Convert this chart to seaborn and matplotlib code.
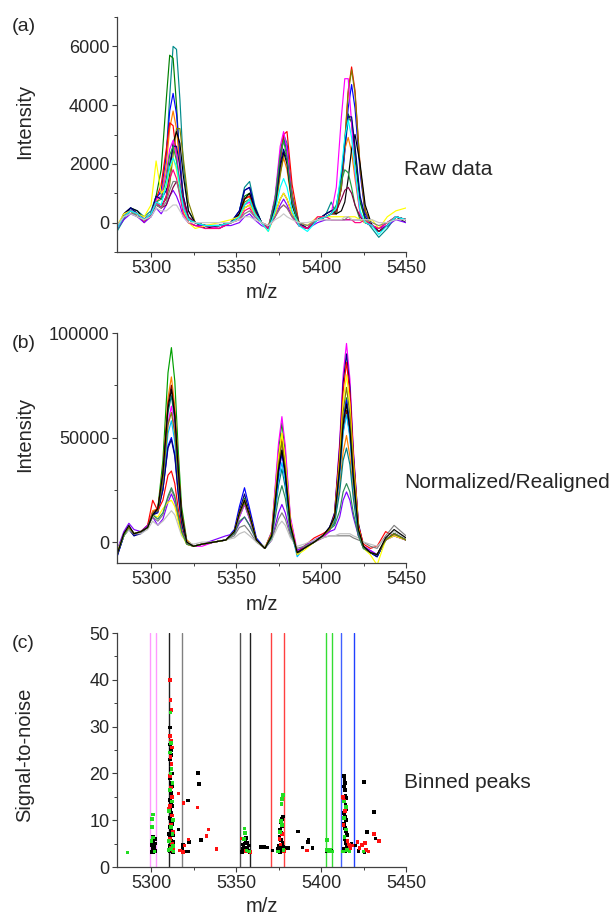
import matplotlib
matplotlib.use("Agg")
import matplotlib.pyplot as plt
from matplotlib.ticker import MultipleLocator
import numpy as np
import pandas as pd
import seaborn as sns

# ---------------- data ----------------
# (a) raw spectra: m/z grid and intensities in units of 100
raw_mz = [5280, 5284, 5288, 5292, 5296, 5300, 5303, 5306, 5309, 5311, 5313, 5315,
          5317, 5319, 5322, 5326, 5332, 5340, 5347, 5352, 5355, 5358, 5361, 5365,
          5369, 5373, 5376, 5378, 5380, 5383, 5387, 5392, 5398, 5403, 5406, 5409,
          5412, 5414, 5416, 5418, 5420, 5423, 5426, 5430, 5434, 5439, 5444, 5450]
raw_hundreds = [
    [-3,1,5,4,2,4,9,10, 23,43,60,59,42,20,4,0, -1,-2,0,4,12,14,6,0, -2,8,24,30,27,9,-1,-2, 1,3,7,3,13,25,35,35, 25,8,1,-2,-5,-2,2,1],
    [-2,2,4,3,1,3,9,18, 42,57,56,40,20,7,1,0, -1,-1,0,3,9,10,5,0, -2,8,23,29,24,7,-1,-2, 1,2,3,4,15,28,37,34, 22,7,1,-1,-3,-1,2,1],
    [-2,3,5,3,1,3,8,11, 23,38,44,37,22,9,1,0, -1,-1,0,4,11,12,5,0, -2,7,22,28,26,9,0,-2, 1,2,3,3,12,24,39,47, 39,17,3,-1,-3,-1,2,1],
    [-1,2,4,2,1,3,7,9, 20,32,38,32,19,8,1,0, -1,-1,0,3,8,9,4,0, -1,6,17,22,18,6,0,-1, 1,2,3,5,16,25,29,24, 15,3,0,-1,-2,0,2,1],
    [-2,2,4,3,0,3,8,13, 25,34,33,23,12,4,0,-1, -1,-1,0,3,8,9,4,0, -2,5,21,30,31,13,0,-2, 1,2,3,3,12,28,45,53, 45,19,4,-1,-3,-1,2,1],
    [-2,2,3,3,1,2,7,6, 8,13,23,32,32,22,7,0, -1,-2,0,2,7,8,4,0, -2,4,16,23,24,10,0,-2, 1,2,3,3,12,27,44,52, 44,19,4,-1,-3,-1,2,1],
    [-2,3,5,4,1,3,6,5, 9,17,27,31,27,16,4,0, -2,-1,0,3,8,10,5,0, -2,6,19,24,20,6,-1,-2, 1,3,4,3,4,7,15,25, 30,20,6,-1,-3,-1,2,0],
    [-1,2,4,3,1,3,8,9, 17,25,28,23,14,6,1,0, -1,-2,0,2,6,7,3,0, -2,9,26,31,25,8,-1,-2, 1,2,3,12,36,49,49,34, 17,3,0,-1,-2,0,2,1],
    [-2,2,5,3,1,3,9,8, 11,20,26,26,19,9,2,0, -1,-1,0,4,11,12,5,0, -2,6,20,25,21,7,0,-2, 1,3,4,5,16,27,36,36, 26,9,2,-1,-3,-1,2,1],
    [-2,2,4,2,1,3,7,8, 15,23,26,21,13,5,1,0, -1,-1,0,2,6,8,3,0, -2,8,23,28,22,7,-1,-2, 1,2,3,6,14,18,17,12, 6,1,0,-1,-3,-1,2,1],
    [-2,1,3,2,0,2,5,3, 6,9,11,9,6,2,0,-1, -1,-1,-1,0,2,3,1,-1, -2,2,6,8,6,2,-1,-2, 0,1,1,1,1,1,1,1, 1,1,0,-1,-2,-1,1,0],
    [-2,2,4,3,1,3,7,5, 6,9,12,14,12,8,2,0, -1,-1,0,2,5,6,3,0, -2,3,8,10,8,3,-1,-2, 1,2,3,4,8,11,12,10, 6,2,0,-1,-3,-1,2,1],
    [-1,3,4,3,2,6,21,10, 12,18,22,18,11,4,0,-2, -1,0,1,2,5,6,3,0, -3,3,8,10,8,3,0,-1, 2,2,2,2,2,2,2,2, 2,1,0,1,-2,2,4,5],
    [-2,2,4,3,1,3,7,5, 9,15,18,15,9,3,0,-1, -2,-2,0,1,4,5,2,0, -2,2,5,6,5,2,-1,-2, 2,2,1,1,1,1,1,1, 0,0,1,-1,-2,0,2,1],
    [-1,2,4,2,1,3,6,5, 7,11,14,14,10,5,1,0, -1,-1,0,1,3,4,2,0, -1,2,5,6,5,2,0,-1, 1,1,1,1,1,1,2,1, 1,1,1,0,-1,0,2,1],
    [-2,2,4,3,1,3,7,6, 13,19,22,19,12,5,1,0, -1,-1,0,2,6,8,3,0, -3,4,12,15,12,4,-1,-3, 1,2,3,5,18,29,35,29, 18,4,0,-1,-4,-1,2,1],
    [-1,2,3,2,1,2,5,4, 4,5,6,6,4,2,0,0, 0,0,0,1,2,2,1,0, -1,1,2,3,2,1,0,0, 1,1,1,1,1,2,2,1, 1,1,1,1,0,0,1,1],
]

# (b) normalized / realigned spectra: intensities in units of 1000
norm_mz = [5280, 5284, 5287, 5290, 5294, 5298, 5301, 5304, 5307, 5310, 5312, 5314,
           5316, 5318, 5321, 5325, 5330, 5337, 5344, 5349, 5352, 5355, 5358, 5362,
           5367, 5371, 5375, 5377, 5379, 5382, 5386, 5390, 5396, 5401, 5405, 5408,
           5411, 5413, 5415, 5417, 5419, 5422, 5425, 5429, 5433, 5438, 5443, 5450]
norm_thousands = [
    [-6,4,7,4,5,7,14,16, 39,81,93,77,44,17,1,-2, -1,0,1,5,14,21,13,1, -3,5,44,57,43,11,-5,-3, 0,3,6,12,36,58,69,56, 33,6,-2,-5,-6,1,4,1],
    [-5,3,7,4,5,8,15,16, 34,69,79,65,37,14,1,-2, -1,0,1,5,14,20,13,1, -3,4,40,52,39,10,-5,-3, 0,3,6,10,27,43,51,41, 24,4,-3,-5,-6,1,4,1],
    [-6,4,7,4,5,7,14,16, 33,66,75,62,36,14,0,-2, -1,0,1,5,13,19,12,1, -3,4,38,49,37,9,-5,-3, 0,3,6,11,33,53,63,51, 30,5,-2,-5,-6,1,4,1],
    [-6,3,7,4,5,7,13,15, 31,62,70,58,33,13,0,-2, -1,0,1,5,12,18,11,1, -3,2,27,35,26,7,-5,-3, 0,3,6,9,24,39,45,37, 21,3,-3,-5,-7,1,4,1],
    [-5,4,7,4,5,8,14,15, 30,57,65,53,31,12,0,-2, -2,0,1,4,12,18,11,1, -3,5,47,60,46,12,-4,-3, 0,2,5,14,48,80,95,78, 45,8,-2,-4,-6,1,3,1],
    [-6,3,7,4,5,7,13,15, 27,52,58,48,27,11,0,-2, -1,0,1,5,13,19,12,1, -3,3,30,38,29,7,-7,-3, 0,3,6,11,32,52,61,50, 29,5,-3,-5,-6,1,4,1],
    [-7,3,7,3,5,7,13,15, 25,46,50,42,24,9,0,-2, -1,0,1,6,17,26,16,2, -3,3,33,42,32,8,-5,-3, 0,3,7,12,35,58,68,56, 32,6,-3,-5,-7,1,4,1],
    [-7,3,6,3,4,7,13,14, 25,45,49,41,23,9,-1,-2, -1,0,1,5,15,23,14,1, -3,3,34,44,33,8,-6,-3, 0,3,7,14,46,76,90,74, 43,9,-2,-5,-7,1,4,1],
    [-5,4,7,4,5,8,20,15, 20,32,34,28,16,6,-1,-2, -1,0,1,5,14,20,13,1, -3,4,38,49,37,9,-5,-2, 2,4,6,13,43,72,86,71, 41,8,-1,-3,-2,5,3,1],
    [-4,5,9,6,5,8,12,8, 11,19,23,19,11,5,0,-2, -1,1,3,4,9,12,8,1, -3,1,14,18,14,4,-4,-2, 1,3,5,6,12,20,24,20, 12,3,-2,-4,-6,1,3,1],
    [-5,4,7,4,5,7,12,10, 13,21,25,21,12,5,0,-2, -1,0,1,3,7,8,5,0, -3,1,11,14,11,3,-3,-2, 0,2,3,3,3,3,3,3, 2,1,0,-2,-3,3,8,3],
    [-4,3,6,4,4,6,10,8, 10,13,15,13,8,3,0,-1, 0,0,1,2,4,5,3,0, -2,1,8,10,8,2,-2,-1, 1,2,3,3,4,4,4,4, 3,2,0,-1,-2,2,5,2],
    [-5,3,7,4,5,7,13,12, 16,19,20,17,10,4,-1,-2, -1,0,1,5,14,20,13,1, -3,4,40,52,39,10,-6,-4, 0,3,6,12,40,67,80,66, 39,7,-3,-6,-11,1,3,1],
    [-6,3,7,4,5,7,13,11, 14,22,26,22,13,5,-1,-2, -1,0,1,4,10,12,8,1, -3,2,21,27,21,5,-5,-3, 0,3,6,8,15,24,28,24, 14,3,-3,-5,-6,1,4,1],
    [-6,4,7,4,5,7,14,15, 29,56,62,52,30,12,0,-2, -1,0,1,5,13,19,12,1, -3,4,37,48,36,9,-5,-3, 0,3,6,12,38,62,74,61, 36,6,-2,-5,-6,1,4,1],
    [-6,4,8,4,5,7,13,16, 33,64,73,60,35,13,0,-2, -1,0,1,5,14,20,13,1, -3,3,35,44,33,8,-5,-3, 0,3,7,12,35,56,66,54, 31,6,-2,-5,-6,2,6,2],
]

# (c) binned peaks: bin boundaries (m/z) and detected peaks (m/z, signal-to-noise)
bin_edges = [5299.4, 5303.2, 5310.3, 5318.0, 5352.4, 5358.3, 5370.7, 5378.0,
             5403.0, 5406.5, 5411.6, 5419.3]

black_mz = [5300.3,5300.8,5301.2,5301.6,5302.0,5300.5,5301.4,5302.2,5301.0,5302.5,5301.8,5300.7,5302.3,5301.5,
            5311.3,5311.0,5311.6,5312.0,5311.2,5311.8,5311.4,5312.2,5311.0,5311.7,5312.4,5311.3,5311.9,5312.6,
            5311.1,5311.6,5312.3,5311.4,5312.0,5312.7,5311.2,5311.8,5312.5,5311.0,5311.6,5312.2,5312.9,5311.3,
            5311.9,5312.6,5311.1,5311.7,5312.4,5313.0,5310.8,5312.1,5313.2,5310.6,
            5327.5,5328.3,5321.6,5316.1,5329.5,5322.3,5319.0,5320.5,5322.0,5318.5,
            5353.5,5354.0,5354.5,5355.0,5355.5,5356.0,5356.5,5357.0,5357.5,5358.0,5354.8,5355.8,5356.3,5353.8,5358.5,
            5364.5,5366.3,5368.4,5371.5,
            5377.6,5377.0,5376.6,5377.2,5376.0,5376.8,5375.6,5376.4,5377.4,5375.2,5376.2,5377.0,5375.8,5374.8,5377.8,5379.6,5380.7,
            5386.5,5392.7,5392.5,5389.1,5395.0,
            5403.5,5404.2,5405.0,5405.8,
            5413.5,5413.8,5414.2,5413.6,5414.0,5414.5,5414.8,5413.9,5414.4,5415.0,5413.7,5414.3,5414.9,5413.5,
            5414.1,5414.7,5415.2,5413.8,5414.4,5415.0,5413.6,5414.2,5415.5,5416.0,
            5425.1,5431.0,5427.0,5432.0,5425.5,5418.0,5420.0,5422.0]
black_sn = [3.2,3.6,4.0,4.4,4.8,5.2,5.6,6.0,6.4,3.4,3.9,4.6,5.0,3.1,
            29.8,26.2,25.0,24.0,23.0,22.0,21.0,20.0,19.0,18.0,17.2,16.5,15.8,15.0,
            14.3,13.6,13.0,12.3,11.6,11.0,10.4,9.8,9.2,8.6,8.0,7.4,6.8,6.2,
            5.6,5.0,4.5,4.0,3.6,3.2,3.4,4.2,5.4,7.0,
            20.1,17.8,14.2,8.0,5.7,5.3,4.8,3.3,3.3,4.0,
            3.2,3.8,4.4,5.0,5.6,6.2,4.0,3.4,4.6,3.1,3.5,4.2,5.2,4.8,3.3,
            4.3,4.3,4.2,3.5,
            10.8,10.3,9.6,8.8,8.0,7.2,6.5,5.8,5.2,4.6,4.0,3.5,3.2,3.8,4.4,4.0,4.0,
            7.6,5.8,5.4,4.2,4.0,
            3.4,3.6,3.3,3.5,
            19.5,18.8,18.0,17.2,16.4,15.2,14.8,14.0,13.2,12.4,11.6,10.8,10.0,9.2,
            8.4,7.6,6.8,6.0,5.2,4.4,3.8,3.3,3.5,4.2,
            18.2,11.8,7.5,6.1,3.2,5.0,4.6,3.4]

red_mz = [5311.2,5311.4,5312.0,5311.0,5311.8,5312.3,5311.5,5312.1,5311.1,5311.9,5312.5,5311.3,5310.5,
          5312.2,5311.6,5312.8,5311.0,5312.4,5311.7,5313.0,5310.2,
          5316.1,5319.1,5327.3,5333.8,5332.6,5338.5,5322.0,5319.7,5317.0,5318.8,
          5353.7,5355.5,5358.6,
          5375.0,5375.5,5376.2,5377.0,5378.3,
          5391.7,
          5413.0,5413.4,5414.0,5413.2,5415.6,5416.5,5417.2,5418.6,5421.5,5424.0,5422.6,5426.4,5426.0,
          5431.0,5434.3,5428.0]
red_sn = [40.0,35.7,33.5,28.0,27.0,25.5,23.5,22.0,19.5,17.0,15.0,13.0,12.5,
          11.0,9.0,7.5,6.0,5.0,4.2,3.6,5.5,
          15.7,13.7,12.7,8.0,6.6,3.8,5.9,4.6,3.5,3.2,
          6.1,3.4,3.2,
          3.3,6.0,4.8,7.0,3.4,
          3.5,
          15.0,14.2,12.0,9.0,5.6,4.8,4.0,4.6,5.4,4.7,4.0,3.6,5.2,
          7.0,5.5,3.3]

green_mz = [5286.2,
            5301.0,5300.7,5300.5,5301.3,5300.3,5302.0,
            5311.5,5311.8,5311.2,5312.0,5311.4,5312.6,5311.0,5312.2,5310.7,5312.9,5311.6,5312.7,5310.4,
            5313.0,5311.9,5313.3,5310.3,
            5355.0,5355.2,5354.6,5357.5,5356.2,
            5377.6,5377.0,5376.8,5376.6,5377.2,5376.0,5374.6,5378.0,
            5403.6,5403.4,5404.5,5405.5,5406.3,
            5413.6,5414.6,5413.4,5414.8,5413.8,5415.4,5412.8,5416.8,5425.0]
green_sn = [3.1,
            11.2,10.2,8.6,6.3,5.5,3.3,
            33.0,26.5,24.5,21.0,20.0,18.0,16.5,14.0,12.0,10.0,8.5,7.0,5.5,
            4.5,3.8,3.3,3.6,
            8.2,7.2,6.0,3.3,3.5,
            15.4,14.5,13.4,9.8,9.0,7.5,3.3,3.6,
            5.8,3.6,3.4,3.6,3.3,
            14.0,12.8,10.4,8.0,6.4,3.6,3.3,3.3,3.3]

# ---------------- styles ----------------
raw_palette = ['#008B8B', '#008000', '#0000FF', '#FF8000', '#FF0000', '#808000',
               '#000000', '#FF00FF', '#000080', '#22A040', '#8000FF', '#800040',
               '#FFFF00', '#FF0080', '#808080', '#00FFFF', '#C8C8C8']
norm_palette = ['#00A000', '#FF8000', '#800000', '#008080', '#FF00FF', '#00BFFF',
                '#0000FF', '#000080', '#FF0000', '#8000FF', '#808080', '#C0C0C0',
                '#FFFF00', '#2E8B57', '#808000', '#000000']
bin_colors = ['#FF99FF', '#FF99FF', '#202020', '#808080', '#505050', '#202020',
              '#FF4040', '#FF4040', '#33DD33', '#33DD33', '#4060FF', '#2040FF']
point_colors = {'black': '#000000', 'red': '#FF1010', 'green': '#22DD22'}

sns.set_theme(style="ticks")
plt.rcParams['font.family'] = ['Liberation Sans', 'DejaVu Sans']
plt.rcParams['axes.edgecolor'] = '#404040'
plt.rcParams['axes.linewidth'] = 0.9

W, H = 615, 917
fig = plt.figure(figsize=(W / 100, H / 100), dpi=100)


def frame(top_px, bottom_px, left_px=117, right_px=406):
    return [left_px / W, 1 - bottom_px / H, (right_px - left_px) / W, (bottom_px - top_px) / H]


ax_a = fig.add_axes(frame(17, 252))
ax_b = fig.add_axes(frame(333, 563))
ax_c = fig.add_axes(frame(633, 867))


def long_table(mz, spectra, scale):
    rows = []
    for i, s in enumerate(spectra):
        for x, y in zip(mz, s):
            rows.append((f"s{i:02d}", x, y * scale))
    return pd.DataFrame(rows, columns=["spectrum", "mz", "intensity"])


df_a = long_table(raw_mz, raw_hundreds, 100)
df_b = long_table(norm_mz, norm_thousands, 1000)
pal_a = {f"s{i:02d}": c for i, c in enumerate(raw_palette)}
pal_b = {f"s{i:02d}": c for i, c in enumerate(norm_palette)}

sns.lineplot(data=df_a, x="mz", y="intensity", hue="spectrum", palette=pal_a,
             estimator=None, sort=False, legend=False, linewidth=0.85, ax=ax_a)
sns.lineplot(data=df_b, x="mz", y="intensity", hue="spectrum", palette=pal_b,
             estimator=None, sort=False, legend=False, linewidth=0.85, ax=ax_b)

for edge, col in zip(bin_edges, bin_colors):
    ax_c.axvline(edge, color=col, linewidth=1.0, zorder=1)

pts = pd.DataFrame({
    "mz": black_mz + red_mz + green_mz,
    "sn": black_sn + red_sn + green_sn,
    "kind": ["black"] * len(black_mz) + ["red"] * len(red_mz) + ["green"] * len(green_mz),
})
sns.scatterplot(data=pts, x="mz", y="sn", hue="kind", palette=point_colors,
                marker="s", s=7, linewidth=0, legend=False, ax=ax_c, zorder=3)

# ---------------- axes formatting ----------------
tick_fs = 13
label_fs = 14.5
for ax in (ax_a, ax_b, ax_c):
    sns.despine(ax=ax)
    ax.set_xlim(5280, 5450)
    ax.xaxis.set_major_locator(MultipleLocator(50))
    ax.xaxis.set_minor_locator(MultipleLocator(25))
    ax.tick_params(which="major", direction="out", length=3.5, width=0.8,
                   color="#404040", labelsize=tick_fs, pad=2)
    ax.tick_params(which="minor", direction="out", length=2, width=0.7, color="#404040")
    ax.set_xlabel("m/z", fontsize=label_fs)
    ax.grid(False)

ax_a.set_ylim(-1000, 7000)
ax_a.set_yticks([0, 2000, 4000, 6000])
ax_a.yaxis.set_minor_locator(MultipleLocator(1000))
ax_b.set_ylim(-10000, 100000)
ax_b.set_yticks([0, 50000, 100000])
ax_b.yaxis.set_minor_locator(MultipleLocator(25000))
ax_c.set_ylim(0, 50)
ax_c.set_yticks([0, 10, 20, 30, 40, 50])
ax_c.yaxis.set_minor_locator(MultipleLocator(5))

ax_a.set_ylabel("Intensity", fontsize=label_fs)
ax_b.set_ylabel("Intensity", fontsize=label_fs)
ax_c.set_ylabel("Signal-to-noise", fontsize=label_fs)
ax_a.yaxis.set_label_coords(-0.287, 0.557)
ax_b.yaxis.set_label_coords(-0.287, 0.557)
ax_c.yaxis.set_label_coords(-0.287, 0.479)
ax_a.xaxis.set_label_coords(0.5, -0.130)
ax_b.xaxis.set_label_coords(0.5, -0.141)
ax_c.xaxis.set_label_coords(0.5, -0.130)

for txt, yc in (("(a)", 26.5), ("(b)", 343), ("(c)", 643)):
    fig.text(12 / W, 1 - yc / H, txt, fontsize=14, ha="left", va="center")
for txt, yb in (("Raw data", 175), ("Normalized/Realigned", 488), ("Binned peaks", 788)):
    fig.text(404 / W, 1 - yb / H, txt, fontsize=15, ha="left", va="baseline")

fig.savefig("out.png", dpi=100)
